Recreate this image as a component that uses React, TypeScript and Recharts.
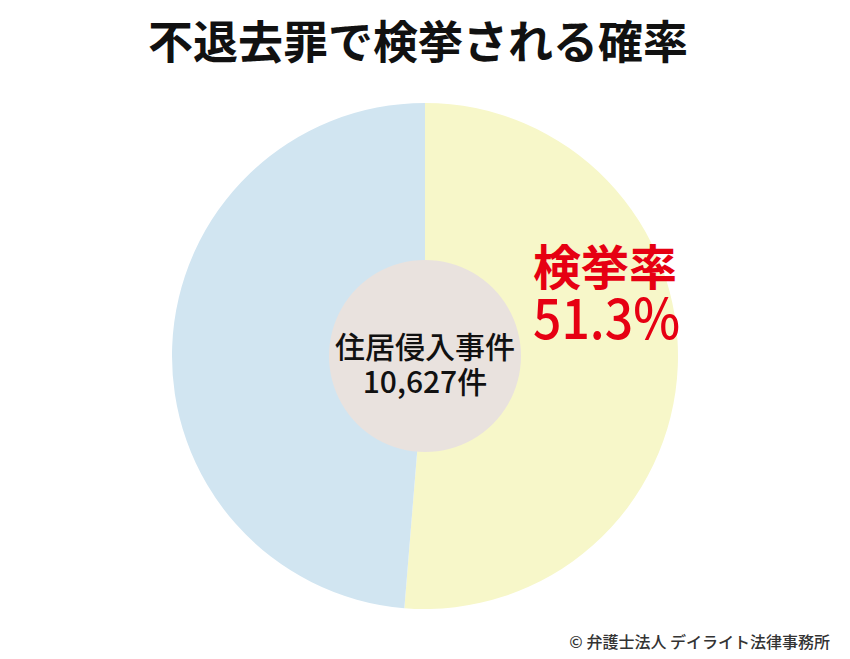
import { PieChart, Pie, Cell } from 'recharts'

const SLICE_NAMES = ['検挙', '未検挙']
const SLICE_VALUES = [51.3, 48.7]
const SLICE_COLORS = ['#f7f7c9', '#d1e5f1']
const CASE_LABEL = '住居侵入事件'
const CASE_COUNT = '10,627件'
const RATE_LABEL = '検挙率'

const TITLE = '不退去罪で検挙される確率'
const CREDIT = '© 弁護士法人 デイライト法律事務所'

const pieData = SLICE_NAMES.map((name, i) => ({ name, value: SLICE_VALUES[i] }))
const centerData = [{ name: CASE_LABEL, value: 1 }]

const FONT = '"Noto Sans CJK JP", "Noto Sans", sans-serif'

export default function App() {
  return (
    <div
      style={{
        position: 'absolute',
        left: 0,
        top: 0,
        width: 850,
        height: 659,
        background: '#fff',
        fontFamily: FONT,
      }}
    >
      <PieChart width={850} height={659} margin={{ top: 0, right: 0, bottom: 0, left: 0 }}>
        <Pie
          data={pieData}
          dataKey="value"
          cx={425}
          cy={356}
          outerRadius={253}
          innerRadius={0}
          startAngle={90}
          endAngle={-270}
          stroke="none"
          isAnimationActive={false}
        >
          {pieData.map((d, i) => (
            <Cell key={d.name} fill={SLICE_COLORS[i]} />
          ))}
        </Pie>
        <Pie
          data={centerData}
          dataKey="value"
          cx={425}
          cy={356}
          outerRadius={96}
          stroke="none"
          fill="#e9e2de"
          isAnimationActive={false}
        />
      </PieChart>
      {/* labels drawn over the chart */}
      <svg
        width={850}
        height={659}
        style={{ position: 'absolute', left: 0, top: 0, pointerEvents: 'none' }}
      >
        <text x={418} y={59} textAnchor="middle" fontSize={45} fontWeight={700} fill="#111" fontFamily={FONT}>
          {TITLE}
        </text>
        <text x={425} y={358} textAnchor="middle" fontSize={30} fontWeight={500} fill="#111" fontFamily={FONT}>
          {CASE_LABEL}
        </text>
        <text x={425} y={393} textAnchor="middle" fontSize={30} fontWeight={500} fill="#111" fontFamily={FONT}>
          {CASE_COUNT}
        </text>
        <text x={533} y={285} fontSize={48} fontWeight={700} fill="#e60012" fontFamily={FONT}>
          {RATE_LABEL}
        </text>
        <text
          x={533}
          y={339}
          fontSize={56}
          fontWeight={500}
          fill="#e60012"
          fontFamily={FONT}
          textLength={147}
          lengthAdjust="spacingAndGlyphs"
        >
          {`${SLICE_VALUES[0]}%`}
        </text>
        <text x={830} y={648} textAnchor="end" fontSize={16} fontWeight={500} fill="#333" fontFamily={FONT}>
          {CREDIT}
        </text>
      </svg>
    </div>
  )
}
